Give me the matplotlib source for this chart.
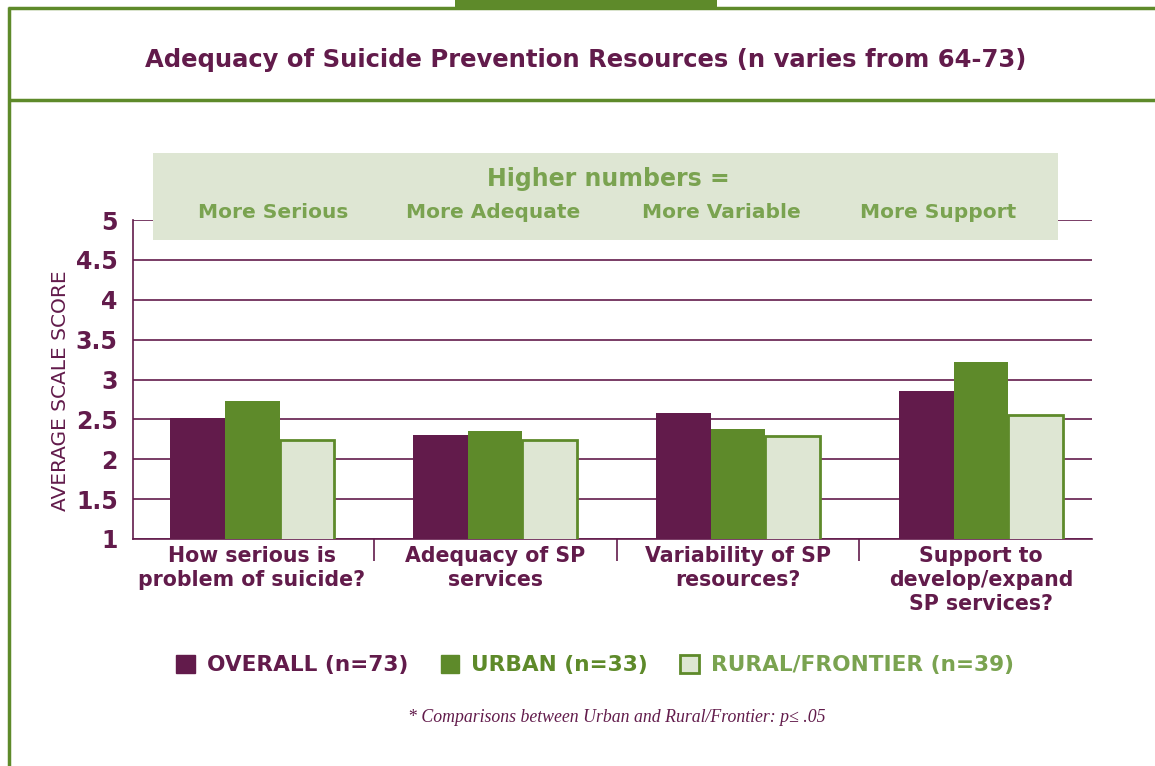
import matplotlib
matplotlib.use("Agg")
from matplotlib import pyplot as plt
from matplotlib.patches import Rectangle
from matplotlib.lines import Line2D
import numpy as np

plt.rcParams['font.family'] = ['DejaVu Sans']

# Dati
categorie = [
    "How serious is\nproblem of suicide?",
    "Adequacy of SP\nservices",
    "Variability of SP\nresources?",
    "Support to\ndevelop/expand\nSP services?",
]
overall = [2.52, 2.30, 2.58, 2.85]
urban = [2.73, 2.35, 2.38, 3.22]
rural = [2.24, 2.24, 2.29, 2.55]
serie = ["OVERALL (n=73)", "URBAN (n=33)", "RURAL/FRONTIER (n=39)"]
note = ["More Serious", "More Adequate", "More Variable", "More Support"]
yticks = [1, 1.5, 2, 2.5, 3, 3.5, 4, 4.5, 5]

viola = "#621b4b"
verde = "#5e8a2a"
chiaro = "#dee6d3"
verde_testo = "#7aa350"

W, H = 1155, 766
fig = plt.figure(figsize=(W / 100, H / 100), dpi=100)

def fx(px):
    return px / W

def fy(py):
    return 1 - py / H

# cornice verde
fig.add_artist(Line2D([fx(9), fx(9)], [fy(7), 0], color=verde, lw=2.5,
                      solid_capstyle="butt"))
fig.add_artist(Line2D([fx(8), 1], [fy(8), fy(8)], color=verde, lw=2.5,
                      solid_capstyle="butt"))
fig.add_artist(Line2D([fx(8), 1], [fy(100), fy(100)], color=verde, lw=2.5,
                      solid_capstyle="butt"))
fig.add_artist(Rectangle((fx(455), fy(7)), fx(717) - fx(455), 1 - fy(7),
                         color=verde, lw=0))

fig.text(fx(586), fy(60), "Adequacy of Suicide Prevention Resources (n varies from 64-73)",
         ha="center", va="center", fontsize=17.5, fontweight="bold", color=viola)

ax = fig.add_axes([fx(133), fy(539), fx(1092) - fx(133), fy(220) - fy(539)])
x = np.arange(len(categorie))
w = 0.226
ax.bar(x - w, overall, w, color=viola, zorder=3)
ax.bar(x, urban, w, color=verde, zorder=3)
ax.bar(x + w, rural, w, color=chiaro, edgecolor=verde, linewidth=2, zorder=3)

ax.set_ylim(1, 5)
ax.set_xlim(-0.49, 3.457)
ax.set_yticks(yticks)
ax.set_yticklabels([f"{t:g}" for t in yticks])
ax.yaxis.grid(True, color=viola, lw=1.2, zorder=0)
ax.tick_params(axis="y", length=0, labelsize=17, labelcolor=viola, pad=11)
for lab in ax.get_yticklabels():
    lab.set_fontweight("bold")
ax.set_xticks(x)
ax.set_xticklabels(categorie, fontsize=14.8, fontweight="bold", color=viola,
                   linespacing=1.25)
ax.set_xticks(np.arange(0.5, 3.5, 1), minor=True)
ax.tick_params(axis="x", which="major", length=0, pad=5)
ax.tick_params(axis="x", which="minor", length=16, width=1.2, color=viola)
for s in ["top", "right"]:
    ax.spines[s].set_visible(False)
ax.spines["left"].set_color(viola)
ax.spines["bottom"].set_color(viola)
ax.spines["left"].set_linewidth(1.2)
ax.spines["bottom"].set_linewidth(1.2)
ax.set_ylabel("AVERAGE SCALE SCORE", color=viola, fontsize=14.5)
ax.yaxis.set_label_coords(-0.066, 0.464)

# riquadro "Higher numbers ="
fig.add_artist(Rectangle((fx(153), fy(240)), fx(1058) - fx(153), fy(153) - fy(240),
                         color=chiaro, lw=0, zorder=5))
fig.text(fx(608), fy(179), "Higher numbers =", ha="center", va="center",
         fontsize=17, fontweight="bold", color=verde_testo, zorder=6)
for xp, t in zip([273, 493, 721, 938], note):
    fig.text(fx(xp), fy(212), t, ha="center", va="center", fontsize=14.5,
             fontweight="bold", color=verde_testo, zorder=6)

# legenda
handles = [
    Rectangle((0, 0), 1, 1, facecolor=viola, edgecolor=viola),
    Rectangle((0, 0), 1, 1, facecolor=verde, edgecolor=verde),
    Rectangle((0, 0), 1, 1, facecolor=chiaro, edgecolor=verde, lw=2),
]
leg = fig.legend(handles, serie, loc="center", bbox_to_anchor=(fx(595), fy(665)),
                 ncol=3, frameon=False, handlelength=0.85,
                 handleheight=0.9, handletextpad=0.55, columnspacing=1.5,
                 labelcolor=[viola, verde, verde_testo],
                 prop={"weight": "bold", "size": 15.6})

fig.text(fx(617), fy(718), "* Comparisons between Urban and Rural/Frontier: p\u2264 .05",
         ha="center", va="center", fontsize=12.8, style="italic", color=viola,
         family="Liberation Serif")

fig.savefig("out.png", dpi=100)
